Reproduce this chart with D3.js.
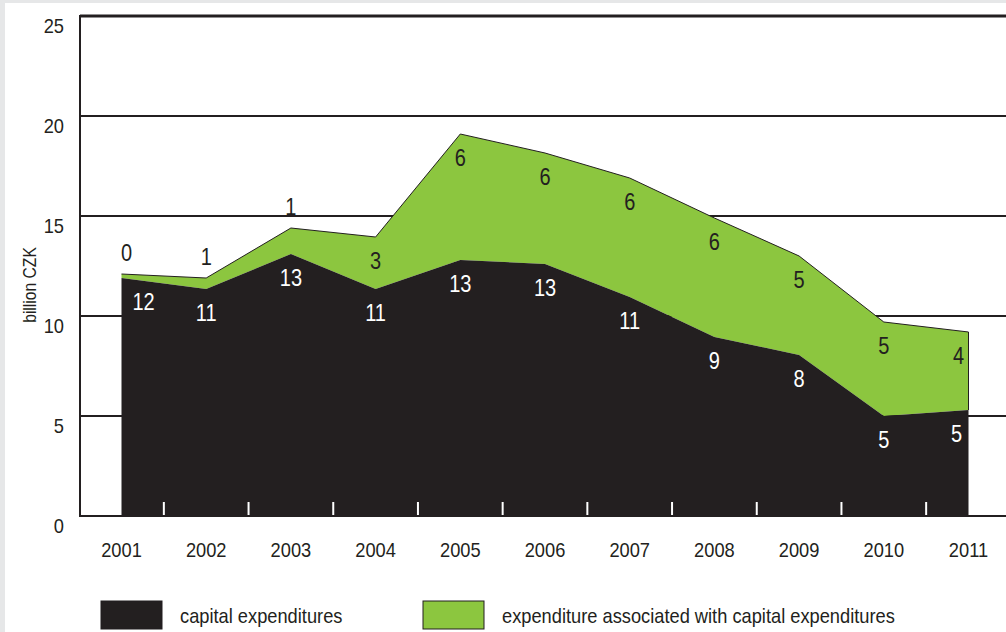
<!DOCTYPE html>
<html>
<head>
<meta charset="utf-8">
<script src="https://d3js.org/d3.v7.min.js"></script>
<style>
  html, body { margin: 0; padding: 0; background: #e6e7e8; }
  svg { display: block; }
  text { font-family: "Liberation Sans Narrow", "Arial Narrow", "Liberation Sans", sans-serif; fill: #231f20; }
</style>
</head>
<body>
<svg width="1006" height="632"></svg>
<script>
// data (billion CZK)
var years = ["2001", "2002", "2003", "2004", "2005", "2006", "2007", "2008", "2009", "2010", "2011"];
var capital = [11.9, 11.35, 13.1, 11.35, 12.8, 12.6, 10.95, 8.95, 8.05, 5.0, 5.3];
var associated = [0.2, 0.55, 1.3, 2.6, 6.3, 5.55, 5.95, 5.95, 4.95, 4.7, 3.9];
var yTicks = [0, 5, 10, 15, 20, 25];
var seriesNames = ["capital expenditures", "expenditure associated with capital expenditures"];

var dark = "#231f20", green = "#8cc63f";
var narrow = 0.87; // squeeze text horizontally, the original uses a condensed face

function place(xv, yv) { return "translate(" + xv + "," + yv + ") scale(" + narrow + ",1)"; }

var svg = d3.select("svg");
svg.append("rect").attr("x", 5).attr("y", 3).attr("width", 1001).attr("height", 629).attr("fill", "#fff");

var plotLeft = 80, plotRight = 1006, plotTop = 16, plotBottom = 516;

var x = d3.scalePoint().domain(years).range([121.5, 968.5]);
var y = d3.scaleLinear().domain([0, 25]).range([plotBottom, plotTop]);

var rows = years.map(function(yr, i) { return { year: yr, capital: capital[i], associated: associated[i] }; });
var stack = d3.stack().keys(["capital", "associated"])(rows);

// gridlines
svg.append("g").selectAll("line")
  .data(yTicks.filter(function(t) { return t > 0; }))
  .enter().append("line")
  .attr("x1", plotLeft).attr("x2", plotRight)
  .attr("y1", function(d) { return y(d); }).attr("y2", function(d) { return y(d); })
  .attr("stroke", dark)
  .attr("stroke-width", function(d) { return d === 25 ? 3 : 2; });

// areas
var area = d3.area()
  .x(function(d) { return x(d.data.year); })
  .y0(function(d) { return y(d[0]); })
  .y1(function(d) { return y(d[1]); });

svg.append("path").datum(stack[1]).attr("d", area).attr("fill", green);
svg.append("path").datum(stack[1])
  .attr("d", d3.line().x(function(d) { return x(d.data.year); }).y(function(d) { return y(d[1]); }))
  .attr("fill", "none").attr("stroke", dark).attr("stroke-width", 1);
svg.append("path").datum(stack[0]).attr("d", area).attr("fill", dark);

// right edge of the green band
var last = stack[1][stack[1].length - 1];
svg.append("line")
  .attr("x1", x(last.data.year)).attr("x2", x(last.data.year))
  .attr("y1", y(last[1])).attr("y2", y(last[0]))
  .attr("stroke", dark).attr("stroke-width", 1);

// axes
svg.append("line").attr("x1", plotLeft).attr("x2", plotLeft).attr("y1", plotTop - 1).attr("y2", plotBottom + 1)
  .attr("stroke", dark).attr("stroke-width", 2);
svg.append("line").attr("x1", plotLeft).attr("x2", plotRight).attr("y1", plotBottom).attr("y2", plotBottom)
  .attr("stroke", dark).attr("stroke-width", 2);

// white ticks between years
var step = x.step();
svg.append("g").selectAll("line")
  .data(years.slice(1))
  .enter().append("line")
  .attr("x1", function(d) { return x(d) - step / 2; })
  .attr("x2", function(d) { return x(d) - step / 2; })
  .attr("y1", plotBottom - 14).attr("y2", plotBottom - 1)
  .attr("stroke", "#fff").attr("stroke-width", 2);

// y tick labels
svg.append("g").selectAll("text")
  .data(yTicks)
  .enter().append("text")
  .attr("transform", function(d) { return place(64, y(d) + 17); })
  .attr("text-anchor", "end")
  .style("font-size", "21px")
  .text(function(d) { return d; });

// year labels
svg.append("g").selectAll("text")
  .data(years)
  .enter().append("text")
  .attr("transform", function(d) { return place(x(d), 557); })
  .attr("text-anchor", "middle")
  .style("font-size", "21px")
  .text(function(d) { return d; });

// y axis title
svg.append("text")
  .attr("transform", "translate(36,285) rotate(-90) scale(" + narrow + ",1)")
  .attr("text-anchor", "middle")
  .style("font-size", "18px")
  .text("billion CZK");

// value labels
var x0 = x(years[0]), xN = x(years[years.length - 1]);
svg.append("g").selectAll("text")
  .data(stack[0])
  .enter().append("text")
  .attr("transform", function(d) {
    return place(Math.min(Math.max(x(d.data.year), x0 + 22), xN - 12), y(d[1]) + 32);
  })
  .attr("text-anchor", "middle")
  .style("font-size", "23px")
  .style("fill", "#fff")
  .text(function(d) { return Math.round(d.data.capital); });

svg.append("g").selectAll("text")
  .data(stack[1])
  .enter().append("text")
  .attr("transform", function(d) {
    var band = y(d[0]) - y(d[1]);
    var ty = band >= 40 ? y(d[1]) + 32 : y(d[1]) - 13;
    return place(Math.min(Math.max(x(d.data.year), x0 + 5), xN - 10), ty);
  })
  .attr("text-anchor", "middle")
  .style("font-size", "23px")
  .text(function(d) { return Math.round(d.data.associated); });

// legend
var legend = svg.append("g").selectAll("g")
  .data(seriesNames)
  .enter().append("g")
  .attr("transform", function(d, i) { return "translate(" + (i === 0 ? 101 : 423) + ",601)"; });
legend.append("rect")
  .attr("width", 61).attr("height", 28)
  .attr("fill", function(d, i) { return i === 0 ? dark : green; })
  .attr("stroke", dark).attr("stroke-width", 1);
legend.append("text")
  .attr("transform", place(79, 22))
  .style("font-size", "21px")
  .text(function(d) { return d; });
</script>
</body>
</html>
